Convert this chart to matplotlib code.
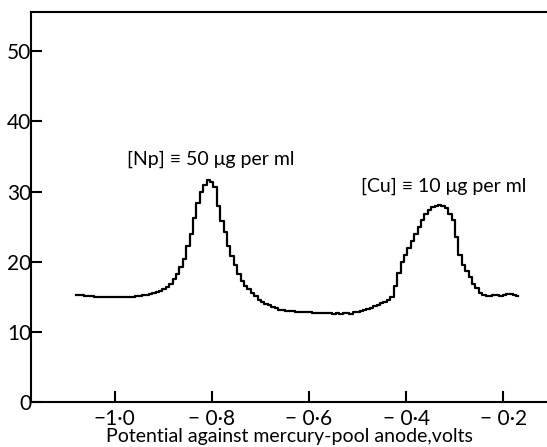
import matplotlib
matplotlib.use('Agg')
import matplotlib.pyplot as plt

plt.rcParams['font.family'] = ['Lato', 'DejaVu Sans']

# recorder trace (volts, current in arbitrary units)
potential = [
    -1.080, -1.073, -1.066, -1.059, -1.052, -1.045, -1.038, -1.031, -1.024, -1.017,
    -1.010, -1.003, -0.996, -0.989, -0.982, -0.975, -0.968, -0.961, -0.954, -0.947,
    -0.940, -0.933, -0.926, -0.919, -0.912, -0.905, -0.898, -0.891, -0.884, -0.877,
    -0.870, -0.863, -0.856, -0.849, -0.842, -0.835, -0.828, -0.821, -0.814, -0.807,
    -0.800, -0.793, -0.786, -0.779, -0.772, -0.765, -0.758, -0.751, -0.744, -0.737,
    -0.730, -0.723, -0.716, -0.709, -0.702, -0.695, -0.688, -0.681, -0.674, -0.667,
    -0.660, -0.653, -0.646, -0.639, -0.632, -0.625, -0.618, -0.611, -0.604, -0.597,
    -0.590, -0.583, -0.576, -0.569, -0.562, -0.555, -0.548, -0.541, -0.534, -0.527,
    -0.520, -0.513, -0.506, -0.499, -0.492, -0.485, -0.478, -0.471, -0.464, -0.457,
    -0.450, -0.443, -0.436, -0.429, -0.422, -0.415, -0.408, -0.401, -0.394, -0.387,
    -0.380, -0.373, -0.366, -0.359, -0.352, -0.345, -0.338, -0.331, -0.324, -0.317,
    -0.310, -0.303, -0.296, -0.289, -0.282, -0.275, -0.268, -0.261, -0.254, -0.247,
    -0.240, -0.233, -0.226, -0.219, -0.212, -0.205, -0.198, -0.191, -0.184, -0.177,
    -0.170,
]
current = [
    15.25, 15.2, 15.2, 15.15, 15.1, 15.1, 15.05, 15.05, 15.0, 15.0,
    14.95, 14.95, 14.95, 14.95, 15.0, 15.0, 15.0, 15.05, 15.1, 15.15,
    15.2, 15.3, 15.4, 15.55, 15.7, 15.9, 16.1, 16.4, 16.9, 17.6,
    18.3, 19.2, 20.4, 22.2, 24.0, 26.2, 28.3, 29.9, 30.9, 31.6,
    31.4, 30.6, 28.0, 25.8, 24.2, 22.2, 20.8, 19.5, 18.3, 17.2,
    16.6, 16.1, 15.6, 15.1, 14.6, 14.3, 14.0, 13.8, 13.6, 13.4,
    13.2, 13.1, 13.05, 13.0, 12.95, 12.9, 12.9, 12.85, 12.8, 12.8,
    12.75, 12.75, 12.7, 12.7, 12.7, 12.65, 12.5, 12.7, 12.6, 12.75,
    12.7, 12.5, 12.8, 12.9, 13.0, 13.1, 13.3, 13.45, 13.7, 13.9,
    14.1, 14.3, 14.5, 15.0, 16.6, 18.4, 19.9, 21.0, 22.0, 23.0,
    24.0, 24.9, 25.9, 26.8, 27.4, 27.8, 28.0, 28.1, 28.0, 27.6,
    26.8, 25.9, 23.5, 21.0, 19.6, 18.7, 17.9, 16.9, 16.2, 15.6,
    15.3, 15.1, 15.1, 15.3, 15.2, 15.1, 15.2, 15.4, 15.4, 15.2,
    15.1,
]

x_ticks = [-1.0, -0.8, -0.6, -0.4, -0.2]
x_ticklabels = ['\u22121\u00b70', '\u2212 0\u00b78', '\u2212 0\u00b76',
                '\u2212 0\u00b74', '\u2212 0\u00b72']
y_ticks = [0, 10, 20, 30, 40, 50]

fig = plt.figure(figsize=(5.47, 4.47), dpi=100)
ax = fig.add_axes([0.057, 0.100, 0.943, 0.874])

ax.plot(potential, current, drawstyle='steps-mid', color='black', lw=1.6)

ax.text(-0.803, 34.6, '[Np] \u2261 50 \u03bcg per ml', fontsize=14,
        ha='center', va='center')
ax.text(-0.323, 30.8, '[Cu] \u2261 10 \u03bcg per ml', fontsize=14,
        ha='center', va='center')

ax.set_xlim(-1.1716, -0.110)
ax.set_ylim(0, 55.6)
ax.set_xticks(x_ticks)
ax.set_xticklabels(x_ticklabels)
ax.set_yticks(y_ticks)
ax.tick_params(axis='both', direction='in', length=8, width=1.5,
               labelsize=15)
ax.tick_params(axis='y', pad=0)
ax.tick_params(axis='x', pad=5)
ax.spines['right'].set_visible(False)
for side in ['left', 'top', 'bottom']:
    ax.spines[side].set_linewidth(1.5)
ax.set_xlabel('Potential against mercury-pool anode,volts', fontsize=14,
              labelpad=-1)

fig.savefig('out.png', dpi=100)
